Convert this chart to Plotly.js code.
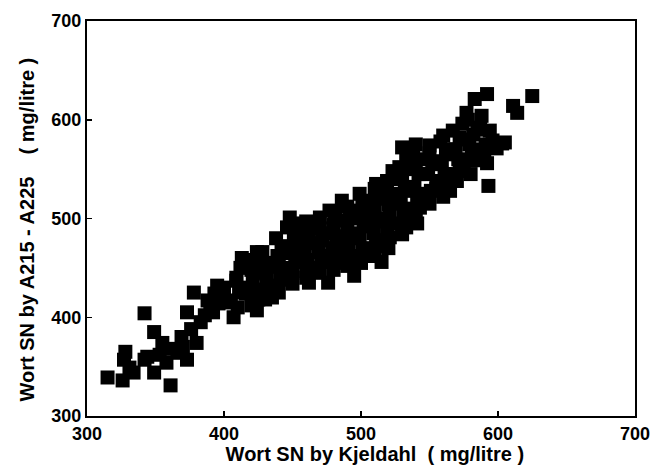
<!DOCTYPE html>
<html>
<head>
<meta charset="utf-8">
<script src="https://cdn.plot.ly/plotly-3.0.1.min.js"></script>
<style>html,body{margin:0;padding:0;background:#fff;}#chart{width:653px;height:465px;}</style>
</head>
<body>
<div id="chart"></div>
<script>
// Wort SN by Kjeldahl (mg/litre)
var kjeldahl = [
  315,326,361,342,373,327,334,342,349,349,355,358,369,373,366,380,383,378,388,393,344,353,331,328,
  362,370,376,386,390,396,
  395,407,424,413,424,409,402,416,438,435,431,440,448,450,460,446,457,465,
  523,511,499,486,477,470,448,457,515,495,476,521,533,462,446,
  592,583,577,611,614,625,593,603,599,563,550,560,567,574,587,594,596,572,584,592,543,541,533,555,533,565,
  530,540,588,605,545,
  392,400,
  410,411,409,412,
  420,419,421,420,422,
  430,429,431,430,428,
  440,441,439,442,
  450,452,449,451,450,
  460,461,459,462,460,
  470,471,469,472,470,
  480,481,479,482,480,481,
  490,489,491,490,492,490,
  500,501,499,502,500,501,
  510,511,509,512,510,511,510,
  520,519,521,520,522,519,
  530,531,529,532,530,528,
  540,541,539,542,540,538,
  550,551,549,552,550,
  560,561,559,562,558,
  570,571,569,572,
  580,581,579,582,578,
  590,591,
  405,415,425,425,435,435,445,445,455,455,465,465,475,475,485,485,485,495,495,495,
  505,505,505,515,515,515,525,525,525,535,535,535,545,545,555,555,565,565,575,575,585,585
];
// Wort SN by A215 - A225 (mg/litre)
var a215a225 = [
  339,336,331,404,405,357,344,357,385,344,374,354,380,357,364,374,395,425,417,424,360,362,349,365,
  368,370,388,402,410,414,
  432,400,407,460,466,437,417,424,480,420,437,451,465,434,447,491,478,491,
  548,535,525,518,508,501,501,495,456,442,435,481,491,435,440,
  626,621,607,614,607,624,533,576,571,531,574,584,589,596,592,589,579,548,559,556,511,495,498,538,562,528,
  572,575,604,577,560,
  405,430,
  410,425,440,450,
  412,425,437,448,458,
  418,428,444,455,466,
  425,438,462,472,
  445,456,470,482,492,
  440,458,468,485,497,
  445,456,466,478,490,
  448,460,470,482,494,505,
  452,465,476,488,500,512,
  455,468,480,492,504,515,
  462,472,485,497,508,520,530,
  470,490,502,514,525,538,
  484,505,516,528,540,552,
  505,520,532,545,558,568,
  515,528,545,556,566,
  522,545,558,570,578,
  538,560,570,582,
  545,565,575,585,600,
  562,575,
  415,430,418,445,432,455,450,470,465,485,450,475,462,485,455,475,498,462,485,508,
  470,495,518,478,500,525,495,515,540,510,530,550,525,545,530,555,545,565,555,580,570,590
];
var tickVals = [300,400,500,600,700];
var tickText = ["300","400","500","600","700"];
var NB = "\u00A0", ZW = "\u200B";
var xTitle = ZW + NB + NB + NB + NB + NB + "Wort SN by Kjeldahl" + NB + NB + "( mg/litre )";
var yTitle = "Wort SN by A215 - A225" + NB + NB + NB + NB + "( mg/litre )" + NB + NB + NB + NB + ZW;

var fontFam = "Arial, 'Liberation Sans', Helvetica, sans-serif";
var axisCommon = {
  range: [300, 700],
  tickmode: "array",
  tickvals: tickVals,
  ticktext: tickText,
  ticks: "inside",
  ticklen: 5,
  tickwidth: 1.5,
  tickcolor: "#000",
  showline: true,
  linecolor: "#000",
  linewidth: 2,
  mirror: true,
  showgrid: false,
  zeroline: false,
  tickfont: {family: fontFam, size: 18, color: "#000", weight: "bold"}
};
var layout = {
  width: 653, height: 465,
  margin: {l: 87, r: 18, t: 21, b: 49},
  paper_bgcolor: "#fff", plot_bgcolor: "#fff",
  showlegend: false,
  xaxis: Object.assign({}, axisCommon, {
    title: {text: xTitle, font: {family: fontFam, size: 20, color: "#000", weight: "bold"}, standoff: 0}
  }),
  yaxis: Object.assign({}, axisCommon, {
    title: {text: yTitle, font: {family: fontFam, size: 20, color: "#000", weight: "bold"}, standoff: 11}
  })
};
var trace = {
  type: "scatter", mode: "markers",
  x: kjeldahl, y: a215a225,
  marker: {symbol: "square", size: 14, color: "#000", line: {width: 0}},
  hoverinfo: "x+y"
};
Plotly.newPlot("chart", [trace], layout, {displayModeBar: false, staticPlot: true});
</script>
</body>
</html>
